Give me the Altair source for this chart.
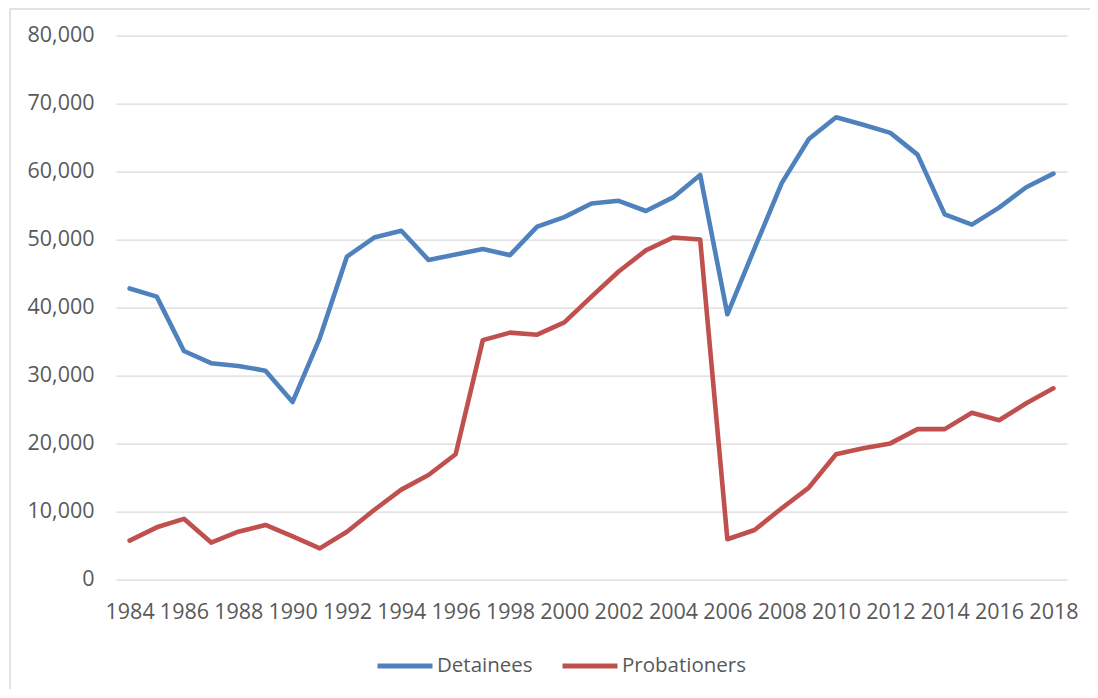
import altair as alt
import pandas as pd

years = list(range(1984, 2019))
detainees = [42800, 41600, 33600, 31800, 31400, 30700, 26100, 35500, 47500, 50300,
             51300, 47000, 47800, 48600, 47700, 51900, 53300, 55300, 55700, 54200,
             56200, 59500, 39000, 48700, 58300, 64800, 68000, 66900, 65700, 62500,
             53700, 52200, 54700, 57700, 59700]
probationers = [5700, 7650, 8900, 5400, 7000, 8000, 6300, 4550, 7000, 10200,
                13200, 15350, 18400, 35200, 36300, 36000, 37800, 41600, 45300, 48400,
                50300, 50000, 5900, 7250, 10450, 13500, 18400, 19300, 20000, 22100,
                22100, 24500, 23400, 25900, 28100]
series_names = ["Detainees", "Probationers"]
series_colors = ["#4F81BD", "#C0504D"]
tick_years = list(range(1984, 2019, 2))
y_ticks = list(range(0, 80001, 10000))

df = pd.DataFrame({
    "Year": years * 2,
    "Value": detainees + probationers,
    "Series": [series_names[0]] * len(years) + [series_names[1]] * len(years),
})

FONT = "Open Sans"
TXT = "#595959"

border = alt.Chart(pd.DataFrame({"a": [0]})).mark_rect(
    fill=None, stroke="#D9D9D9", strokeWidth=1.5
).encode(
    x=alt.value(-106), y=alt.value(-26.7), x2=alt.value(1200), y2=alt.value(800)
)

lines = alt.Chart(df).mark_line(
    strokeWidth=4.6, strokeJoin="round", strokeCap="round"
).encode(
    x=alt.X("Year:Q",
            scale=alt.Scale(domain=[1983.5, 2018.5], nice=False, zero=False),
            axis=alt.Axis(values=tick_years, format="d", title=None, grid=False,
                          ticks=False, domain=False, labelPadding=22,
                          labelFontSize=21.5, labelColor=TXT, labelFont=FONT,
                          labelOverlap=False, labelFlush=False)),
    y=alt.Y("Value:Q",
            scale=alt.Scale(domain=[0, 80000], nice=False),
            axis=alt.Axis(values=y_ticks, format=",d", title=None, grid=True,
                          gridColor="#D9D9D9", gridWidth=1.3, ticks=False,
                          domain=False, labelPadding=22, labelFontSize=21.5,
                          labelColor=TXT, labelFont=FONT)),
    color=alt.Color("Series:N",
                    scale=alt.Scale(domain=series_names, range=series_colors),
                    legend=alt.Legend(title=None, orient="none", direction="horizontal",
                                      legendX=259, legendY=600,
                                      symbolType="stroke", symbolSize=3025,
                                      symbolStrokeWidth=5, labelOffset=2,
                                      columnPadding=19, padding=0,
                                      labelFontSize=20.5, labelColor=TXT,
                                      labelFont=FONT)),
)

chart = alt.layer(border, lines).properties(
    width=951, height=543.6,
    padding={"left": 108, "top": 27.7, "right": 23, "bottom": 110},
    autosize="none",
).configure_view(stroke=None)

chart.save("out.html", embed_options={"renderer": "svg", "actions": False})
